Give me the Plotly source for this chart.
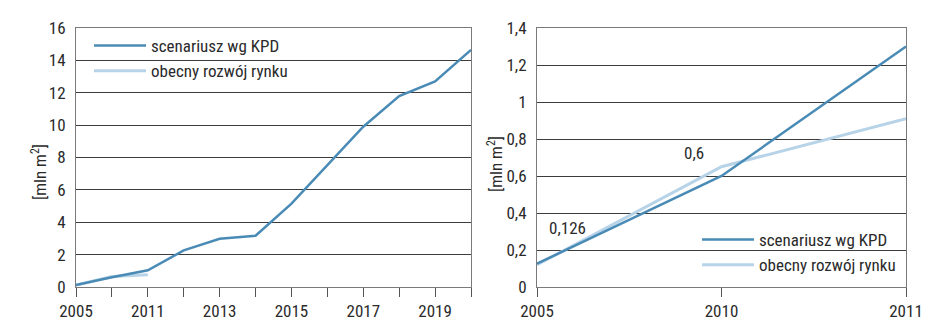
import plotly.graph_objects as go

# ---------------- data ----------------
left_years = ["2005", "2010", "2011", "2012", "2013", "2014", "2015",
              "2016", "2017", "2018", "2019", "2020"]
left_ticktext = ["2005", " ", "2011", " ", "2013", " ", "2015", " ", "2017", " ", "2019", " "]
left_kpd = [0.12, 0.6, 1.03, 2.26, 2.98, 3.17, 5.15, 7.55, 9.9, 11.8, 12.7, 14.65]
left_market_years = ["2005", "2010", "2011"]
left_market = [0.12, 0.65, 0.76]

right_years = ["2005", "2010", "2011"]
right_kpd = [0.126, 0.6, 1.3]
right_market = [0.12, 0.65, 0.91]

left_yticks = [0, 2, 4, 6, 8, 10, 12, 14, 16]
right_yticks = [0, 0.2, 0.4, 0.6, 0.8, 1.0, 1.2, 1.4]
right_yticktext = ["0", "0,2", "0,4", "0,6", "0,8", "1", "1,2", "1,4"]

name_kpd = "scenariusz wg KPD"
name_market = "obecny rozwój rynku"
ytitle = "[mln m<sup>2</sup>]"

# ---------------- style ----------------
FONT = "Liberation Sans Narrow, Arial Narrow, Roboto Condensed, Liberation Sans, sans-serif"
FS = 17
DARK = "#4a8bb6"
LIGHT = "#b7d3e8"
TXT = "#2a2a2a"
GRID = "#3c3c3c"
FRAME = "#7a7a7a"

ML, MR, MT, MB = 76, 32, 28, 48
PW = 938 - ML - MR
PH = 335 - MT - MB


def px(x):
    return (x - ML) / PW


def py(y):
    return (335 - MB - y) / PH


fig = go.Figure()

fig.add_trace(go.Scatter(x=left_market_years, y=left_market, name=name_market, mode="lines",
                         line=dict(color=LIGHT, width=3), xaxis="x", yaxis="y", legend="legend"))
fig.add_trace(go.Scatter(x=left_years, y=left_kpd, name=name_kpd, mode="lines",
                         line=dict(color=DARK, width=2.5), xaxis="x", yaxis="y", legend="legend"))
fig.add_trace(go.Scatter(x=right_years, y=right_market, name=name_market, mode="lines",
                         line=dict(color=LIGHT, width=3), xaxis="x2", yaxis="y2", legend="legend2"))
fig.add_trace(go.Scatter(x=right_years, y=right_kpd, name=name_kpd, mode="lines",
                         line=dict(color=DARK, width=2.5), xaxis="x2", yaxis="y2", legend="legend2"))

xcommon = dict(type="category", showgrid=False, showline=True, linecolor=FRAME, linewidth=1,
               mirror=True, ticks="outside", ticklen=9, tickcolor="#555", tickwidth=1,
               tickfont=dict(family=FONT, size=FS, color=TXT), zeroline=False, fixedrange=True,
               automargin=False)
ycommon = dict(showgrid=True, gridcolor=GRID, gridwidth=1, showline=True, linecolor=FRAME,
               linewidth=1, mirror=True, ticks="", zeroline=False, ticklabelstandoff=6,
               tickfont=dict(family=FONT, size=FS, color=TXT), fixedrange=True, automargin=False)

ann_font = dict(family=FONT, size=FS, color=TXT)

fig.update_layout(
    width=938, height=335,
    margin=dict(l=ML, r=MR, t=MT, b=MB, autoexpand=False),
    paper_bgcolor="white", plot_bgcolor="white",
    font=dict(family=FONT, size=FS, color=TXT),
    xaxis=dict(xcommon, domain=[px(76), px(471)], anchor="y", range=[0, 11],
               categoryorder="array", categoryarray=left_years,
               tickmode="array", tickvals=left_years, ticktext=left_ticktext),
    yaxis=dict(ycommon, domain=[0, 1], anchor="x", range=[0, 16], tickmode="array",
               tickvals=left_yticks),
    xaxis2=dict(xcommon, domain=[px(537), px(906)], anchor="y2", range=[0, 2],
                categoryorder="array", categoryarray=right_years,
                tickmode="array", tickvals=right_years, ticktext=right_years),
    yaxis2=dict(ycommon, domain=[0, 1], anchor="x2", range=[0, 1.4], tickmode="array",
                tickvals=right_yticks, ticktext=right_yticktext),
    legend=dict(x=px(89), y=py(28), xanchor="left", yanchor="top",
                bgcolor="rgba(0,0,0,0)", borderwidth=0, traceorder="reversed",
                font=dict(family=FONT, size=FS, color=TXT), itemwidth=52),
    legend2=dict(x=px(697), y=py(222), xanchor="left", yanchor="top",
                 bgcolor="rgba(0,0,0,0)", borderwidth=0, traceorder="reversed",
                 font=dict(family=FONT, size=FS, color=TXT), itemwidth=52),
    annotations=[
        dict(text=ytitle, xref="paper", yref="paper", x=px(39), y=py(172),
             xanchor="center", yanchor="middle", textangle=-90, showarrow=False, font=ann_font),
        dict(text=ytitle, xref="paper", yref="paper", x=px(495), y=py(164),
             xanchor="center", yanchor="middle", textangle=-90, showarrow=False, font=ann_font),
        dict(text="0,126", xref="paper", yref="paper", x=px(567), y=py(228),
             xanchor="center", yanchor="middle", showarrow=False, font=ann_font),
        dict(text="0,6", xref="paper", yref="paper", x=px(694), y=py(153),
             xanchor="center", yanchor="middle", showarrow=False, font=ann_font),
    ],
    showlegend=True,
)

fig.write_html("out.html")
